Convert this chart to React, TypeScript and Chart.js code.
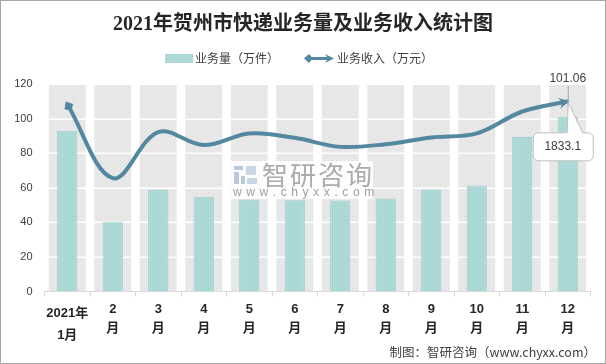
import React, { useEffect, useRef } from 'react';
import { Chart, registerables } from 'chart.js';

Chart.register(...registerables);

const TITLE = '2021年贺州市快递业务量及业务收入统计图';
const SOURCE = '制图：智研咨询（www.chyxx.com）';
const LEGEND_BAR = '业务量（万件）';
const LEGEND_LINE = '业务收入（万元）';

const categories = ['2021年1月', '2月', '3月', '4月', '5月', '6月', '7月', '8月', '9月', '10月', '11月', '12月'];
const xLabelLines = [
  ['2021年', '1月'], ['2', '月'], ['3', '月'], ['4', '月'], ['5', '月'], ['6', '月'],
  ['7', '月'], ['8', '月'], ['9', '月'], ['10', '月'], ['11', '月'], ['12', '月'],
];
// 业务量（万件）
const volume = [92.9, 40.3, 58.7, 54.8, 53.2, 52.8, 52.6, 53.8, 59.0, 61.3, 89.4, 101.06];
// 业务收入（万元）
const revenue = [1807, 1092, 1536, 1411, 1524, 1481, 1394, 1420, 1485, 1524, 1735, 1833.1];
// background column bands (full height of the axis)
const bands = [120, 120, 120, 120, 120, 120, 120, 120, 120, 120, 120, 120];
const Y_MAX = 120;
const Y2_MAX = 2000;
const LAST_VOLUME_LABEL = '101.06';
const LAST_REVENUE_LABEL = '1833.1';

const LINE_COLOR = '#5488a0';
const TEXT_COLOR = '#404040';
const CJK = '"Noto Sans CJK SC", sans-serif';

function makePattern(base: string, dot: string) {
  const c = document.createElement('canvas');
  c.width = 4;
  c.height = 4;
  const g = c.getContext('2d')!;
  g.fillStyle = base;
  g.fillRect(0, 0, 4, 4);
  g.fillStyle = dot;
  g.fillRect(0, 0, 1, 1);
  g.fillRect(2, 2, 1, 1);
  return g.createPattern(c, 'repeat')!;
}

function drawStealth(ctx: CanvasRenderingContext2D, x: number, y: number, ang: number, len: number, half: number) {
  ctx.save();
  ctx.translate(x, y);
  ctx.rotate(ang);
  ctx.beginPath();
  ctx.moveTo(0, 0);
  ctx.lineTo(-len, -half);
  ctx.lineTo(-len * 0.65, 0);
  ctx.lineTo(-len, half);
  ctx.closePath();
  ctx.fill();
  ctx.restore();
}

function drawDiamondArrow(ctx: CanvasRenderingContext2D, x: number, y: number, ang: number, len: number, half: number) {
  ctx.save();
  ctx.translate(x, y);
  ctx.rotate(ang);
  ctx.beginPath();
  ctx.moveTo(0, 0);
  ctx.lineTo(-len * 0.55, -half);
  ctx.lineTo(-len, 0);
  ctx.lineTo(-len * 0.55, half);
  ctx.closePath();
  ctx.fill();
  ctx.restore();
}

function spacedText(ctx: CanvasRenderingContext2D, text: string, x: number, y: number, spacing: number) {
  let cx = x;
  for (const ch of text) {
    ctx.fillText(ch, cx, y);
    cx += ctx.measureText(ch).width + spacing;
  }
}

const decor = {
  id: 'decor',
  beforeDraw(chart: any) {
    const ctx: CanvasRenderingContext2D = chart.ctx;
    ctx.save();
    ctx.fillStyle = '#ffffff';
    ctx.fillRect(0, 0, chart.width, chart.height);
    ctx.strokeStyle = '#a6a6a6';
    ctx.lineWidth = 1;
    ctx.strokeRect(0.5, 0.5, chart.width - 1, chart.height - 1);

    // title
    ctx.fillStyle = '#262626';
    ctx.font = 'bold 20px "Liberation Serif", "Noto Sans CJK SC", serif';
    ctx.textAlign = 'center';
    ctx.textBaseline = 'middle';
    ctx.fillText(TITLE, chart.width / 2, 25);

    // legend
    const ly = 58.5;
    ctx.fillStyle = (chart.data.datasets[1] as any).backgroundColor;
    ctx.fillRect(165, ly - 4.5, 28, 9);
    ctx.font = '12px ' + CJK;
    ctx.fillStyle = TEXT_COLOR;
    ctx.textAlign = 'left';
    ctx.fillText(LEGEND_BAR, 195, ly);

    ctx.strokeStyle = LINE_COLOR;
    ctx.fillStyle = LINE_COLOR;
    ctx.lineWidth = 3;
    ctx.beginPath();
    ctx.moveTo(309, ly);
    ctx.lineTo(328, ly);
    ctx.stroke();
    drawDiamondArrow(ctx, 304, ly, Math.PI, 9, 4.5);
    drawStealth(ctx, 334, ly, 0, 9, 4.5);
    ctx.fillStyle = TEXT_COLOR;
    ctx.fillText(LEGEND_LINE, 337, ly);
    ctx.restore();
  },
  afterDatasetDraw(chart: any, args: any) {
    if (args.index !== 0) return;
    const ctx: CanvasRenderingContext2D = chart.ctx;
    const y = chart.scales.y;
    const { left, right } = chart.chartArea;
    ctx.save();
    ctx.strokeStyle = '#ffffff';
    ctx.lineWidth = 1.5;
    y.ticks.forEach((t: any) => {
      if (t.value === 0) return;
      const py = Math.round(y.getPixelForValue(t.value)) + 0.25;
      ctx.beginPath();
      ctx.moveTo(left, py);
      ctx.lineTo(right, py);
      ctx.stroke();
    });
    ctx.restore();
  },
  afterDatasetsDraw(chart: any) {
    const ctx: CanvasRenderingContext2D = chart.ctx;
    const xs = chart.scales.x;
    const ys = chart.scales.y;
    const area = chart.chartArea;
    ctx.save();

    // arrow heads on the revenue line
    const meta = chart.getDatasetMeta(2);
    const pts = meta.data;
    const p0 = pts[0];
    const pn = pts[pts.length - 1];
    ctx.fillStyle = LINE_COLOR;
    const a0 = Math.atan2(p0.y - p0.cp2y, p0.x - p0.cp2x);
    drawDiamondArrow(ctx, p0.x + Math.cos(a0) * 3, p0.y + Math.sin(a0) * 3, a0, 11, 5);
    const an = Math.atan2(pn.y - pn.cp1y, pn.x - pn.cp1x);
    drawStealth(ctx, pn.x + Math.cos(an) * 2, pn.y + Math.sin(an) * 2, an, 11, 5.5);

    // watermark
    ctx.fillStyle = 'rgba(255,255,255,0.88)';
    ctx.fillRect(231, 161, 142, 38);
    ctx.fillStyle = '#b8c9dd';
    ctx.fillRect(234, 166, 9, 4);
    ctx.fillRect(234, 172, 5, 12);
    ctx.fillRect(241, 176, 4, 8);
    ctx.fillStyle = '#c9d6e6';
    ctx.fillRect(246, 166, 10, 9);
    ctx.fillRect(247, 178, 10, 6);
    ctx.fillStyle = '#ababab';
    ctx.font = '26px ' + CJK;
    ctx.textAlign = 'left';
    ctx.textBaseline = 'middle';
    spacedText(ctx, '智研咨询', 262, 175.5, 2);
    ctx.font = '12px "Liberation Sans", sans-serif';
    ctx.fillStyle = '#a0a0a0';
    spacedText(ctx, 'www.chyxx.com', 233, 193, 4.6);

    // x labels
    ctx.fillStyle = '#262626';
    ctx.font = 'bold 13px "Liberation Sans", "Noto Sans CJK SC", sans-serif';
    ctx.textAlign = 'center';
    const base = area.bottom;
    xLabelLines.forEach((lines, i) => {
      const px = xs.getPixelForValue(i);
      if (i === 0) {
        ctx.fillText(lines[0], px, base + 22);
        ctx.fillText(lines[1], px, base + 44);
      } else {
        ctx.fillText(lines[0], px, base + 18);
        ctx.fillText(lines[1], px, base + 37);
      }
    });

    // annotations for the last month
    const last = categories.length - 1;
    const lx = xs.getPixelForValue(last);
    const barTop = ys.getPixelForValue(volume[last]);
    const ptY = pn.y;
    ctx.strokeStyle = '#a6a6a6';
    ctx.lineWidth = 1;
    ctx.beginPath();
    ctx.moveTo(lx + 0.5, area.top + 2);
    ctx.lineTo(lx + 0.5, barTop);
    ctx.stroke();
    ctx.fillStyle = TEXT_COLOR;
    ctx.font = '12px "Liberation Sans", sans-serif';
    ctx.fillText(LAST_VOLUME_LABEL, lx, area.top - 5);

    const bx = lx - 35;
    const by = ptY + 31;
    const bw = 60;
    const bh = 28;
    ctx.fillStyle = '#ffffff';
    ctx.strokeStyle = '#bfbfbf';
    ctx.beginPath();
    (ctx as any).roundRect(bx + 0.5, by + 0.5, bw, bh, 5);
    ctx.fill();
    ctx.stroke();
    ctx.beginPath();
    ctx.moveTo(lx - 1, by + 1.5);
    ctx.lineTo(lx + 0.5, ptY + 1);
    ctx.lineTo(lx + 15, by + 1.5);
    ctx.closePath();
    ctx.fill();
    ctx.beginPath();
    ctx.moveTo(lx - 0.5, by + 0.5);
    ctx.lineTo(lx + 0.5, ptY + 1);
    ctx.lineTo(lx + 15, by + 0.5);
    ctx.stroke();
    ctx.fillStyle = TEXT_COLOR;
    ctx.fillText(LAST_REVENUE_LABEL, bx + bw / 2, by + bh / 2 + 0.5);

    // source
    ctx.textAlign = 'right';
    ctx.font = '12.5px ' + CJK;
    ctx.fillStyle = TEXT_COLOR;
    ctx.fillText(SOURCE, 596, 352);
    ctx.restore();
  },
};

export default function App() {
  const ref = useRef<HTMLCanvasElement>(null);
  useEffect(() => {
    document.body.style.margin = '0';
    const canvas = ref.current!;
    const bandFill = makePattern('#e9e9e9', '#dbdbdb');
    const barFill = makePattern('#aedbd8', '#96cdca');
    const chart = new Chart(canvas, {
      type: 'bar',
      data: {
        labels: categories,
        datasets: [
          {
            type: 'bar',
            label: 'band',
            data: bands,
            backgroundColor: bandFill as any,
            borderWidth: 0,
            barPercentage: 0.81,
            categoryPercentage: 1,
            grouped: false,
            order: 3,
            yAxisID: 'y',
          } as any,
          {
            type: 'bar',
            label: LEGEND_BAR,
            data: volume,
            backgroundColor: barFill as any,
            borderColor: 'rgba(130,196,193,0.7)',
            borderWidth: 1,
            barPercentage: 0.445,
            categoryPercentage: 1,
            grouped: false,
            order: 2,
            yAxisID: 'y',
          } as any,
          {
            type: 'line',
            label: LEGEND_LINE,
            data: revenue,
            borderColor: LINE_COLOR,
            borderWidth: 4,
            tension: 0.36,
            pointRadius: 0,
            fill: false,
            order: 1,
            yAxisID: 'y2',
          } as any,
        ],
      },
      options: {
        responsive: false,
        animation: false,
        devicePixelRatio: 1,
        layout: { padding: { top: 84, right: 15.5, left: 0, bottom: 0 } },
        plugins: {
          legend: { display: false },
          title: { display: false },
          tooltip: { enabled: false },
        },
        scales: {
          x: {
            type: 'category',
            offset: true,
            grid: {
              display: true,
              drawOnChartArea: false,
              drawTicks: true,
              tickLength: 5,
              color: '#d9d9d9',
              offset: true,
            },
            border: { display: true, color: '#d9d9d9' },
            ticks: { display: false },
            afterFit: (s: any) => {
              s.height = 72.5;
            },
          },
          y: {
            min: 0,
            max: Y_MAX,
            ticks: {
              stepSize: 20,
              padding: 12,
              color: TEXT_COLOR,
              font: { family: '"Liberation Sans", Arial, sans-serif', size: 11 },
            },
            grid: { display: false, drawTicks: false },
            border: { display: false },
            afterFit: (s: any) => {
              s.width = 44.5;
            },
          },
          y2: {
            display: false,
            min: 0,
            max: Y2_MAX,
          },
        },
      } as any,
      plugins: [decor as any],
    });
    return () => chart.destroy();
  }, []);
  return (
    <div style={{ width: 606, height: 364 }}>
      <canvas ref={ref} width={606} height={364} style={{ display: 'block' }} />
    </div>
  );
}
